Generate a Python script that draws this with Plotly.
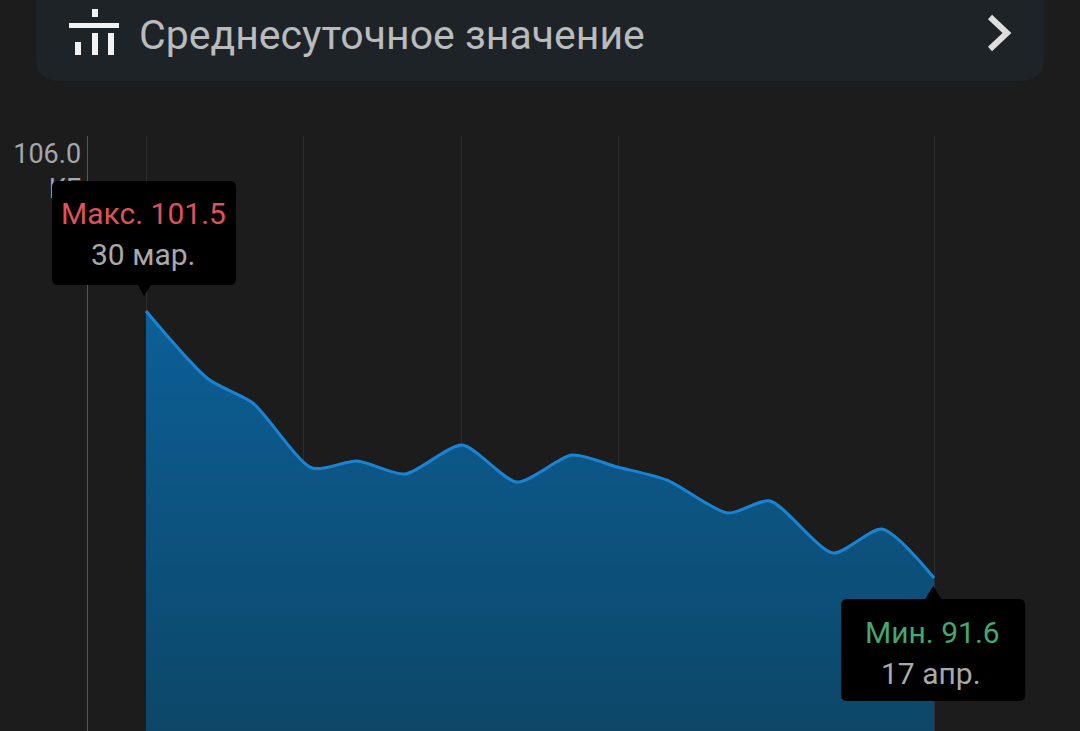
import plotly.graph_objects as go

# days since 30 Mar (bends of the line)
day_offsets = [0, 1.42, 2.44, 3.79, 4.82, 5.92, 7.22, 8.47, 9.73, 10.76, 11.90, 13.29, 14.25, 15.69, 16.81, 18]
weights = [101.5, 98.98, 98.09, 95.68, 95.94, 95.46, 96.53, 95.16, 96.16, 95.72, 95.23, 94.01, 94.46, 92.53,
           93.42, 91.6]
grid_days = [0, 3.6, 7.2, 10.8, 18]
y_ticks = [106]
y_tick_labels = ['106.0<br>КГ']

WIDTH, HEIGHT = 1080, 731
FONT = 'Roboto'
X_DOMAIN = [87.5 / WIDTH, 1]
Y_DOMAIN = [0, 1 - 136 / HEIGHT]
X_RANGE = [-1.336, 21.33]
Y_RANGE = [85.93, 107.99]


def px(x):
    return x / WIDTH


def py(y):
    return 1 - y / HEIGHT


def data_to_paper(val, rng, dom):
    return dom[0] + (val - rng[0]) / (rng[1] - rng[0]) * (dom[1] - dom[0])


def paper_path(points):
    return 'M ' + ' L '.join(f'{px(x):.5f} {py(y):.5f}' for x, y in points)


def rounded_rect(x0, y0, x1, y1, r):
    return (f'M {px(x0 + r):.5f} {py(y0):.5f} L {px(x1 - r):.5f} {py(y0):.5f} '
            f'Q {px(x1):.5f} {py(y0):.5f} {px(x1):.5f} {py(y0 + r):.5f} '
            f'L {px(x1):.5f} {py(y1 - r):.5f} Q {px(x1):.5f} {py(y1):.5f} {px(x1 - r):.5f} {py(y1):.5f} '
            f'L {px(x0 + r):.5f} {py(y1):.5f} Q {px(x0):.5f} {py(y1):.5f} {px(x0):.5f} {py(y1 - r):.5f} '
            f'L {px(x0):.5f} {py(y0 + r):.5f} Q {px(x0):.5f} {py(y0):.5f} {px(x0 + r):.5f} {py(y0):.5f} Z')


fig = go.Figure()

fig.add_trace(go.Scatter(
    x=day_offsets,
    y=weights,
    mode='lines',
    line=dict(color='#1a84d4', width=3, shape='spline', smoothing=0.7),
    fill='tozeroy',
    fillgradient=dict(type='vertical', start=Y_RANGE[0], stop=weights[0],
                      colorscale=[[0, '#0c4768'], [1, '#0c5f97']]),
    hoverinfo='skip',
    showlegend=False,
))

shapes = []

# header card
shapes.append(dict(type='path', path=rounded_rect(36, -40, 1044, 81, 24), xref='paper', yref='paper',
                   fillcolor='#1e2327', line_width=0, layer='below'))

# header icon
for x0, y0, x1, y1 in [(92, 9, 98, 17), (69, 23, 119, 28), (75, 42, 81, 55), (92, 33, 98, 55), (108, 33, 114, 55)]:
    shapes.append(dict(type='rect', xref='paper', yref='paper', x0=px(x0), x1=px(x1), y0=py(y1), y1=py(y0),
                       fillcolor='#f2f2f2', line_width=0))

# chevron
shapes.append(dict(type='path', path=paper_path([(990, 17), (1007, 33), (990, 49)]), xref='paper', yref='paper',
                   line=dict(color='#dedede', width=6), fillcolor='rgba(0,0,0,0)'))


# callouts are anchored on the data point, sizes in pixels; paper refs so the axis area does not clip them
def callout(x_val, y_val, path):
    return dict(type='path', xref='paper', yref='paper', xsizemode='pixel', ysizemode='pixel',
                xanchor=data_to_paper(x_val, X_RANGE, X_DOMAIN), yanchor=data_to_paper(y_val, Y_RANGE, Y_DOMAIN),
                path=path, fillcolor='#000000', line_width=0, layer='above')


shapes.append(callout(day_offsets[0], weights[0],
                      'M -2 15 L -8 26 L -88 26 Q -94 26 -94 32 L -94 124 Q -94 130 -88 130 L 84 130 '
                      'Q 90 130 90 124 L 90 32 Q 90 26 84 26 L 5 26 Z'))
shapes.append(callout(day_offsets[-1], weights[-1],
                      'M -1 -8 L -9 -21 L -87 -21 Q -93 -21 -93 -27 L -93 -117 Q -93 -123 -87 -123 L 85 -123 '
                      'Q 91 -123 91 -117 L 91 -27 Q 91 -21 85 -21 L 7 -21 Z'))

annotations = [
    dict(text='Среднесуточное значение', xref='paper', yref='paper', x=px(137), y=py(35), xanchor='left',
         yanchor='middle', showarrow=False, font=dict(family=FONT, size=41, color='#b9bbbd')),
    dict(text=f'Макс. {weights[0]}', x=day_offsets[0], y=weights[0], xshift=-3, yshift=98, showarrow=False,
         font=dict(family=FONT, size=30, color='#dd525c')),
    dict(text='30 мар.', x=day_offsets[0], y=weights[0], xshift=-3, yshift=57, showarrow=False,
         font=dict(family=FONT, size=30, color='#a9a9a9')),
    dict(text=f'Мин. {weights[-1]}', x=day_offsets[-1], y=weights[-1], xshift=-2, yshift=-54, showarrow=False,
         font=dict(family=FONT, size=30, color='#43a86f')),
    dict(text='17 апр.', x=day_offsets[-1], y=weights[-1], xshift=-3, yshift=-95, showarrow=False,
         font=dict(family=FONT, size=30, color='#a9a9a9')),
]

fig.update_layout(
    width=WIDTH,
    height=HEIGHT,
    margin=dict(l=0, r=0, t=0, b=0),
    paper_bgcolor='#1c1c1c',
    plot_bgcolor='#1c1c1c',
    showlegend=False,
    shapes=shapes,
    annotations=annotations,
    xaxis=dict(
        domain=X_DOMAIN,
        range=X_RANGE,
        tickmode='array',
        tickvals=grid_days,
        showticklabels=False,
        ticks='',
        showgrid=True,
        gridcolor='#2d2d2d',
        gridwidth=1,
        zeroline=False,
    ),
    yaxis=dict(
        domain=Y_DOMAIN,
        range=Y_RANGE,
        tickmode='array',
        tickvals=y_ticks,
        ticktext=y_tick_labels,
        ticklabelposition='outside top',
        tickfont=dict(family=FONT, size=27, color='#a3a6ad'),
        ticks='',
        showgrid=False,
        zeroline=False,
        showline=True,
        linecolor='#565656',
        linewidth=1,
    ),
)

fig.write_html('out.html', config={'displayModeBar': False},
               post_script="document.body.style.margin='0';document.body.style.overflow='hidden';")
